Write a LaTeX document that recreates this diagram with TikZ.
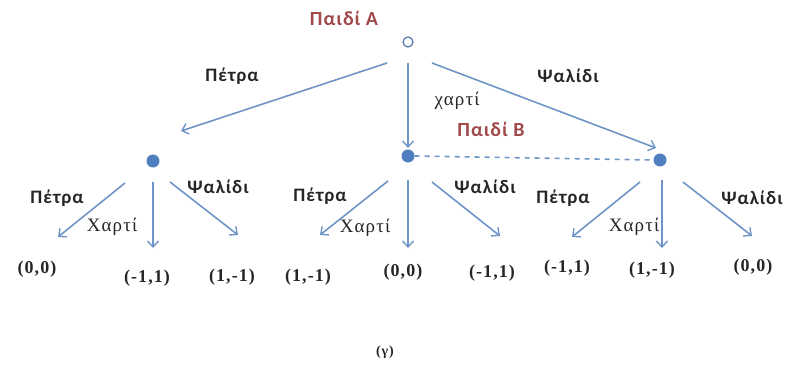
\documentclass[tikz,border=0pt]{standalone}
\usepackage{fontspec}
\setmainfont{Liberation Serif}
\newfontfamily\lblfont[LetterSpace=5]{Carlito}
\newfontfamily\payfont[LetterSpace=6]{Liberation Serif}
\usetikzlibrary{arrows.meta}
\definecolor{edgeblue}{HTML}{6F95C8}
\definecolor{nodeblue}{HTML}{4F7FBF}
\definecolor{playred}{HTML}{A0484A}
\tikzset{
  move/.style={draw=edgeblue, line width=1.6pt, -{Straight Barb[length=6pt,width=11pt,line width=1.4pt]}},
  info/.style={draw=edgeblue, line width=1.6pt, dash pattern=on 5pt off 5pt},
  dec/.style={circle, fill=nodeblue, inner sep=0pt, minimum size=13pt},
  rootnode/.style={circle, draw=nodeblue!80!gray, line width=1.3pt, inner sep=0pt, minimum size=10pt},
  lbl/.style={font=\lblfont\bfseries\fontsize{19}{22}\selectfont, text=black!85, inner sep=0pt},
  player/.style={font=\lblfont\bfseries\fontsize{20}{24}\selectfont, text=playred, inner sep=0pt},
  chi/.style={font=\payfont\fontsize{19}{22}\selectfont, text=black!85, inner sep=0pt},
  pay/.style={font=\payfont\bfseries\fontsize{18}{22}\selectfont, text=black!85, inner sep=0pt},
  capt/.style={font=\payfont\bfseries\fontsize{14}{16}\selectfont, text=black!85, inner sep=0pt}
}
\begin{document}
\begin{tikzpicture}[x=1pt,y=-1pt]
\useasboundingbox (0,0) rectangle (787,366);
% nodes
\node[rootnode] (root) at (408,42) {};
\node[dec] (L) at (153,161) {};
\node[dec] (M) at (408,156) {};
\node[dec] (R) at (660,160) {};
\node[player] (pA) at (344,18) {Παιδί Α};
\node[player] (pB) at (491,129) {Παιδί Β};
% top-level moves
\coordinate (r1) at (387,63); \coordinate (r2) at (408,63); \coordinate (r3) at (432,63);
\coordinate (eL) at (181,131); \coordinate (eM) at (408,148); \coordinate (eR) at (656,148);
\draw[move] (r1) -- (eL);
\draw[move] (r2) -- (eM);
\draw[move] (r3) -- (eR);
\node[lbl] (tP) at (232,76) {Πέτρα};
\node[chi] (tX) at (457,101) {χαρτί};
\node[lbl] (tS) at (568,76) {Ψαλίδι};
\draw[info] (M.east) -- (R.west);
% left subtree
\coordinate (La) at (125,183); \coordinate (Lb) at (153,182); \coordinate (Lc) at (170,182);
\coordinate (La2) at (58,237); \coordinate (Lb2) at (153,248); \coordinate (Lc2) at (238,235);
\draw[move] (La) -- (La2);
\draw[move] (Lb) -- (Lb2);
\draw[move] (Lc) -- (Lc2);
\node[lbl] (LP) at (57,198) {Πέτρα};
\node[chi] (LX) at (112,227) {Χαρτί};
\node[lbl] (LS) at (218,187) {Ψαλίδι};
\node[pay] (L1) at (37,269) {(0,0)};
\node[pay] (L2) at (147,278) {(-1,1)};
\node[pay] (L3) at (232,277) {(1,-1)};
% middle subtree
\coordinate (Ma) at (388,181); \coordinate (Mb) at (408,180); \coordinate (Mc) at (432,182);
\coordinate (Ma2) at (320,235); \coordinate (Mb2) at (408,248); \coordinate (Mc2) at (500,236);
\draw[move] (Ma) -- (Ma2);
\draw[move] (Mb) -- (Mb2);
\draw[move] (Mc) -- (Mc2);
\node[lbl] (MP) at (320,196) {Πέτρα};
\node[chi] (MX) at (365,228) {Χαρτί};
\node[lbl] (MS) at (485,187) {Ψαλίδι};
\node[pay] (M1) at (308,277) {(1,-1)};
\node[pay] (M2) at (403,272) {(0,0)};
\node[pay] (M3) at (492,273) {(-1,1)};
% right subtree
\coordinate (Ra) at (640,182); \coordinate (Rb) at (662,180); \coordinate (Rc) at (683,182);
\coordinate (Ra2) at (572,237); \coordinate (Rb2) at (662,248); \coordinate (Rc2) at (752,236);
\draw[move] (Ra) -- (Ra2);
\draw[move] (Rb) -- (Rb2);
\draw[move] (Rc) -- (Rc2);
\node[lbl] (RP) at (563,198) {Πέτρα};
\node[chi] (RX) at (634,227) {Χαρτί};
\node[lbl] (RS) at (752,198) {Ψαλίδι};
\node[pay] (R1) at (567,268) {(-1,1)};
\node[pay] (R2) at (652,270) {(1,-1)};
\node[pay] (R3) at (753,267) {(0,0)};
% caption
\node[capt] (cap) at (385,352) {(γ)};
\end{tikzpicture}
\end{document}
